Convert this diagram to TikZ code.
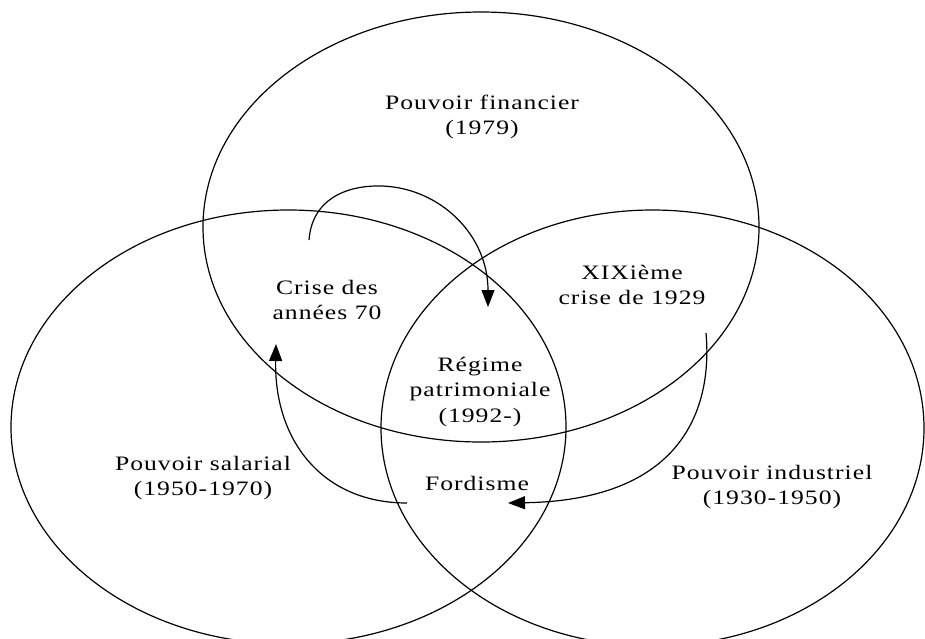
\documentclass[tikz,border=0pt]{standalone}
\usepackage{fontspec}
\setmainfont{Liberation Serif}[FakeStretch=1.25,LetterSpace=5]
\usetikzlibrary{arrows.meta}
\begin{document}
\begin{tikzpicture}[x=1pt,y=-1pt,
  ring/.style={draw=black,line width=1.2pt},
  lbl/.style={align=center,font=\fontsize{20.5}{25.5}\selectfont,inner sep=0pt},
  flow/.style={draw=black,line width=1.2pt,-{Triangle[length=17pt,width=13pt]}}]
\useasboundingbox (0,0) rectangle (925,638);
\path[ring] (481,227) ellipse [x radius=278pt, y radius=215pt];
\path[ring] (288.5,427) ellipse [x radius=277.5pt, y radius=217pt];
\path[ring] (652.5,428) ellipse [x radius=271.5pt, y radius=218pt];
\node[lbl] (fin) at (482,117) {Pouvoir financier\\(1979)};
\node[lbl] (crise) at (327,300) {Crise des\\années 70};
\node[lbl] (xix) at (632,285) {XIXième\\crise de 1929};
\node[lbl] (reg) at (480,392) {Régime\\patrimoniale\\(1992-)};
\node[lbl] (ford) at (477,483) {Fordisme};
\node[lbl] (sal) at (203,478) {Pouvoir salarial\\(1950-1970)};
\node[lbl] (ind) at (772,487) {Pouvoir industriel\\(1930-1950)};
\coordinate (a1s) at (309,240);
\coordinate (a1e) at (488,307);
\coordinate (a2s) at (706,333);
\coordinate (a2e) at (508,503);
\coordinate (a3s) at (407,503);
\coordinate (a3e) at (276,344);
\draw[flow] (a1s) .. controls (312,200) and (345,185) .. (382,186) .. controls (440,188) and (488,235) .. (a1e);
\draw[flow] (a2s) .. controls (712,400) and (690,500) .. (a2e);
\draw[flow] (a3s) .. controls (322,503) and (274,440) .. (a3e);
\end{tikzpicture}
\end{document}
